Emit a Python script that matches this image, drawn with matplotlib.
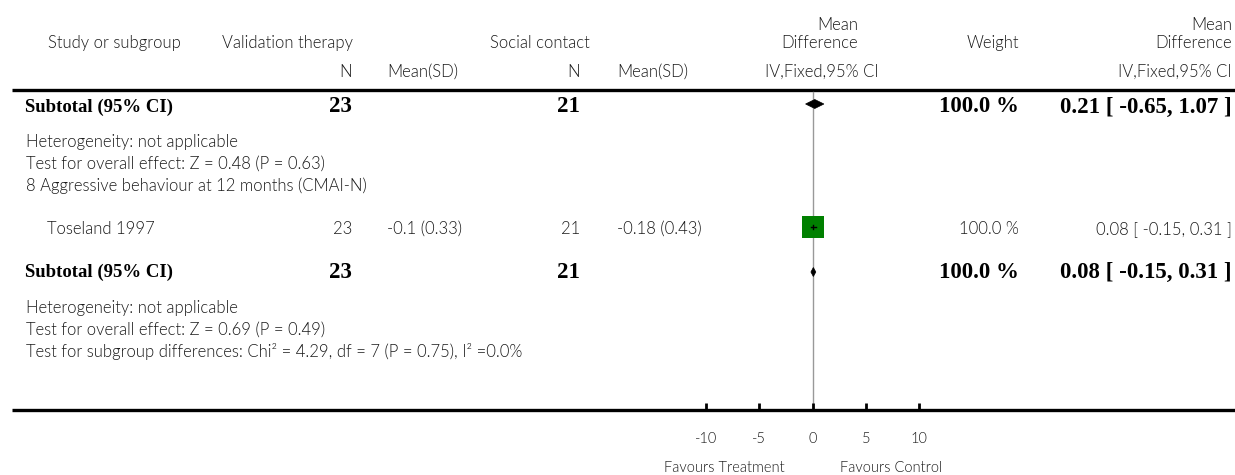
import matplotlib
matplotlib.use("Agg")
import matplotlib.pyplot as plt
from matplotlib.patches import Polygon

# previous outcome subtotal (only its tail is visible in the figure)
sub1_n = [23, 21]
sub1_md = [0.21, -0.65, 1.07]
sub1_weight = 100.0
sub1_z, sub1_p = 0.48, 0.63

# outcome 8
outcome_label = "8 Aggressive behaviour at 12 months (CMAI-N)"
study_names = ["Toseland 1997"]
treat_n = [23]
treat_mean = [-0.1]
treat_sd = [0.33]
ctrl_n = [21]
ctrl_mean = [-0.18]
ctrl_sd = [0.43]
study_md = [0.08]
study_lo = [-0.15]
study_hi = [0.31]
study_weight = [100.0]

sub2_n = [23, 21]
sub2_md = [0.08, -0.15, 0.31]
sub2_weight = 100.0
sub2_z, sub2_p = 0.69, 0.49

chi2, chi_df, chi_p, i2 = 4.29, 7, 0.75, 0.0
axis_ticks = [-10, -5, 0, 5, 10]

W, H = 1235, 475
LIGHT = dict(family="Lato", fontweight=300, fontsize=12, color="#1a1a1a")
SMALL = dict(LIGHT, fontsize=10.5)
BOLD = dict(family="Liberation Serif", fontweight="bold", fontsize=13.5, color="black")
BOLDNUM = dict(BOLD, fontsize=16.5)

fig = plt.figure(figsize=(W / 100, H / 100), dpi=100)
ax = fig.add_axes([0, 0, 1, 1])
ax.set_xlim(0, W)
ax.set_ylim(H, 0)
ax.axis("off")


def txt(x, y, s, ha="left", style=LIGHT):
    ax.text(x, y, s, ha=ha, va="center", **style)


def ci_str(md, lo, hi):
    return f"{md:.2f} [ {lo:.2f}, {hi:.2f} ]"


# header
txt(48, 43, "Study or subgroup")
txt(222, 43, "Validation therapy")
txt(490, 43, "Social contact")
txt(352, 72, "N", ha="right")
txt(387, 72, "Mean(SD)")
txt(580, 72, "N", ha="right")
txt(617, 72, "Mean(SD)")
txt(858, 25, "Mean", ha="right")
txt(858, 43, "Difference", ha="right")
txt(879, 72, "IV,Fixed,95% CI", ha="right")
txt(1019, 43, "Weight", ha="right")
txt(1232, 25, "Mean", ha="right")
txt(1232, 43, "Difference", ha="right")
txt(1232, 72, "IV,Fixed,95% CI", ha="right")

ax.plot([12, W], [89.5, 89.5], color="black", lw=2.4, solid_capstyle="butt")
ax.plot([12, W], [409.5, 409.5], color="black", lw=2.4, solid_capstyle="butt")

# subtotal rows
y_sub1, y_sub2 = 107, 272
for y, n, md, w in [(y_sub1, sub1_n, sub1_md, sub1_weight), (y_sub2, sub2_n, sub2_md, sub2_weight)]:
    txt(25, y, "Subtotal (95% CI)", style=BOLD)
    txt(352, y, str(n[0]), ha="right", style=BOLDNUM)
    txt(580, y, str(n[1]), ha="right", style=BOLDNUM)
    txt(1019, y, f"{w:.1f} %", ha="right", style=BOLDNUM)
    txt(1232, y, ci_str(*md), ha="right", style=BOLDNUM)

txt(26, 142, "Heterogeneity: not applicable")
txt(26, 164, f"Test for overall effect: Z = {sub1_z:.2f} (P = {sub1_p:.2f})")
txt(26, 186, outcome_label)

y_study = [229]
for i, name in enumerate(study_names):
    y = y_study[i]
    txt(47, y, name)
    txt(352, y, str(treat_n[i]), ha="right")
    txt(387, y, f"{treat_mean[i]} ({treat_sd[i]})")
    txt(580, y, str(ctrl_n[i]), ha="right")
    txt(617, y, f"{ctrl_mean[i]} ({ctrl_sd[i]})")
    txt(1019, y, f"{study_weight[i]:.1f} %", ha="right")
    txt(1232, y, ci_str(study_md[i], study_lo[i], study_hi[i]), ha="right")

txt(26, 308, "Heterogeneity: not applicable")
txt(26, 330, f"Test for overall effect: Z = {sub2_z:.2f} (P = {sub2_p:.2f})")
txt(26, 352, f"Test for subgroup differences: Chi² = {chi2:.2f}, df = {chi_df} (P = {chi_p:.2f}), I² ={i2:.1f}%")

# forest panel: x in effect units, y in pixel rows
x0, x1 = 706, 919
axf = fig.add_axes([x0 / W, (H - 409.5) / H, (x1 - x0) / W, (409.5 - 90) / H])
axf.set_xlim(axis_ticks[0], axis_ticks[-1])
axf.set_ylim(409.5, 90)
axf.patch.set_visible(False)
for sp in axf.spines.values():
    sp.set_visible(False)
axf.set_yticks([])
axf.set_xticks(axis_ticks)
axf.set_xticklabels([str(t) for t in axis_ticks], family="Lato", fontweight=300,
                    fontsize=10.5, color="#1a1a1a")
axf.tick_params(axis="x", direction="in", length=5, width=2, color="black", pad=16)

axf.plot([0, 0], [92, 409.5], color="#999999", lw=1, zorder=1)

for y, md in [(y_sub1 - 3, sub1_md), (y_sub2, sub2_md)]:
    m, lo, hi = md
    h = 4.5
    axf.add_patch(Polygon([(lo, y), (m, y - h), (hi, y), (m, y + h)], closed=True,
                          facecolor="black", edgecolor="black", lw=0.5, zorder=3))

for i in range(len(study_names)):
    y = y_study[i] - 2
    axf.plot([study_md[i]], [y], marker="s", markersize=15.8, color="#008000",
             markeredgewidth=0, zorder=2)
    axf.plot([study_lo[i], study_hi[i]], [y, y], color="black", lw=1, zorder=3)
    axf.plot([study_md[i], study_md[i]], [y - 2, y + 2], color="black", lw=1, zorder=3)

txt(785, 468, "Favours Treatment", ha="right", style=SMALL)
txt(840, 468, "Favours Control", style=SMALL)

fig.savefig("out.png", dpi=100)
